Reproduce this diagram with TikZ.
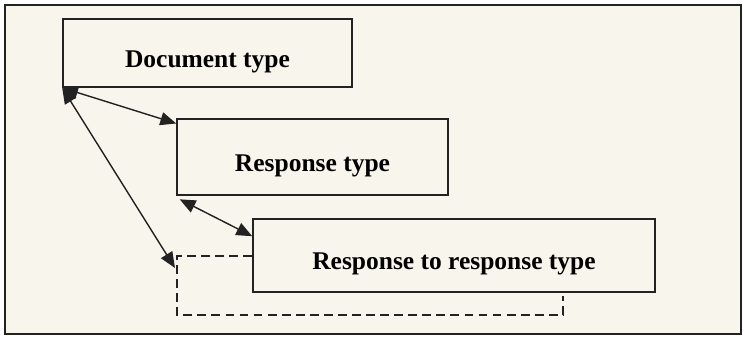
\documentclass[tikz,border=0pt]{standalone}
\usepackage{fontspec}
\setmainfont{Liberation Serif}
\usepackage{xcolor}
\usetikzlibrary{arrows.meta}
\definecolor{paper}{HTML}{F8F5EC}
\definecolor{ink}{HTML}{222222}

\begin{document}
\begin{tikzpicture}[
        >={Triangle[length=9pt,width=7.5pt]},
        typebox/.style={draw=ink, line width=0.9pt, fill=paper,
            font=\fontsize{14.5}{16}\selectfont\bfseries,
            text height=16pt, text depth=0pt, inner sep=0pt},
        link/.style={<->, ink, line width=0.8pt}
    ]

        %% ── Cadre ─────────────────────────────────────────────────────────
        \useasboundingbox (0,0) rectangle (14.88,6.78);
        \draw[ink, line width=1pt, fill=paper] (0.1,0.1) rectangle (14.82,6.68);

        %% ── Types ─────────────────────────────────────────────────────────
        \node[typebox, minimum width=5.78cm, minimum height=1.36cm]
            (doc) at (4.15,5.72) {Document type};
        \node[typebox, minimum width=5.42cm, minimum height=1.52cm]
            (resp) at (6.25,3.64) {Response type};
        \node[typebox, minimum width=8.04cm, minimum height=1.46cm]
            (rr) at (9.08,1.67) {Response to response type};

        %% ── Boucle (pointillés) ───────────────────────────────────────────
        \coordinate (loop) at (3.54,1.66);
        \coordinate (loopend) at (3.50,1.42);
        \draw[ink, line width=0.8pt, dash pattern=on 5pt off 3pt]
            (rr.west |- loop) -- (loop) -- (3.54,0.48) -- (11.26,0.48)
            -- (11.26,0.86);

        %% ── Liens ─────────────────────────────────────────────────────────
        \draw[link] (doc.south west) -- ([yshift=-3pt]resp.north west);
        \draw[link] ([shift={(2pt,-2pt)}]resp.south west)
            -- ([yshift=-0.36cm]rr.north west);
        \draw[link] (doc.south west) -- (loopend);

    \end{tikzpicture}
\end{document}
